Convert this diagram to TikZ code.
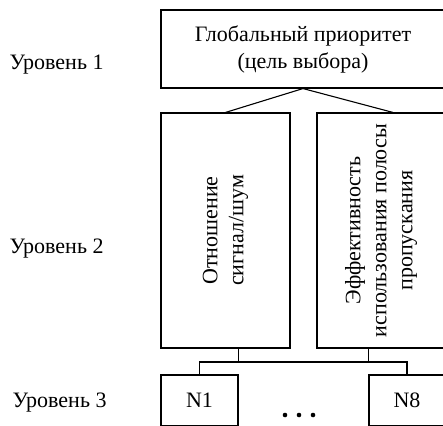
\documentclass[tikz,border=0pt]{standalone}
\usepackage{fontspec}
\setmainfont{Liberation Serif}
\begin{document}
\begin{tikzpicture}[x=1pt,y=-1pt,line width=1.1pt,
  box/.style={draw,inner sep=0pt,anchor=center},
  lvl/.style={anchor=base west,inner sep=0pt,font=\fontsize{22}{26}\selectfont},
  txt/.style={inner sep=0pt,align=center,font=\fontsize{22}{27}\selectfont},
  vtxt/.style={inner sep=0pt,align=center,rotate=90,font=\fontsize{22}{26}\selectfont}]
\useasboundingbox (0,0) rectangle (443,425);
\clip (0,0) rectangle (443,425);

% level captions
\node[lvl] (lv1) at (9,70)  {Уровень 1};
\node[lvl] (lv2) at (9,253) {Уровень 2};
\node[lvl] (lv3) at (12,407) {Уровень 3};

% level 1: goal
\node[box,minimum width=284pt,minimum height=78pt] (goal) at (303,49) {};
\node[txt] (goaltxt) at (goal.center) {Глобальный приоритет\\(цель выбора)};

% level 2: criteria
\node[box,minimum width=129pt,minimum height=235pt] (crit1) at (225.5,230.5) {};
\node[vtxt] (crit1txt) at (crit1.center) {Отношение\\сигнал/шум};
\node[box,minimum width=128pt,minimum height=235pt] (crit2) at (381,230.5) {};
\node[vtxt] (crit2txt) at (crit2.center) {Эффективность\\использования полосы\\пропускания};

% level 3: alternatives
\node[box,minimum width=77pt,minimum height=51pt,font=\fontsize{22}{26}\selectfont] (n1) at (199.5,400.5) {N1};
\node[box,minimum width=76pt,minimum height=51pt,font=\fontsize{22}{26}\selectfont] (n8) at (407,400.5) {N8};
\fill (285,415) circle (2.3pt) (299,415) circle (2.3pt) (313,415) circle (2.3pt);

% links goal -> criteria
\draw (goal.south) -- (crit1.north);
\draw (goal.south) -- ([xshift=12pt]crit2.north);

% links criteria -> alternatives
\coordinate (busL) at (n1.north |- 0,362);
\coordinate (busR) at (n8.north |- 0,362);
\draw (n1.north) -- (busL) -- (busR) -- (n8.north);
\draw (crit1.south -| n1.east) -- (busL -| n1.east);
\draw (crit2.south -| n8.west) -- (busR -| n8.west);
\end{tikzpicture}
\end{document}
